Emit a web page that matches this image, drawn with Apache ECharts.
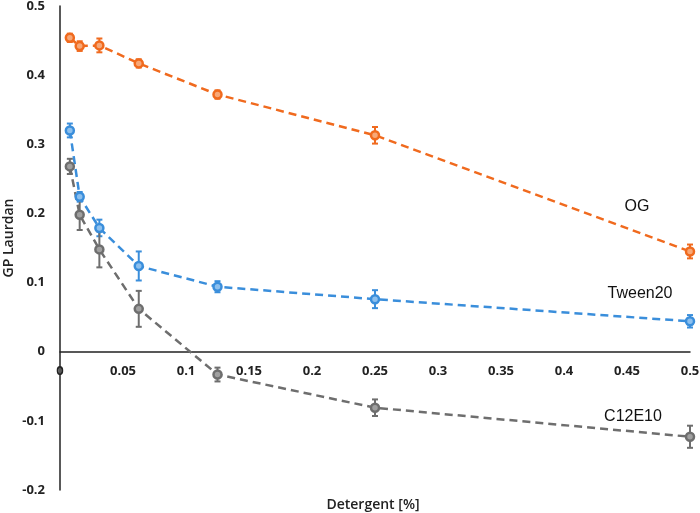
<!DOCTYPE html>
<html>
<head>
<meta charset="utf-8">
<script src="https://cdn.jsdelivr.net/npm/echarts@6/dist/echarts.min.js"></script>
<style>html,body{margin:0;padding:0;background:#fff}#c{width:700px;height:513px}</style>
</head>
<body>
<div id="c"></div>
<script>
const concentrations = [0.0078125, 0.015625, 0.03125, 0.0625, 0.125, 0.25, 0.5];
const ogValues = [0.454, 0.442, 0.443, 0.417, 0.372, 0.313, 0.145];
const ogErrors = [0.006, 0.007, 0.010, 0.006, 0.006, 0.012, 0.010];
const tweenValues = [0.320, 0.224, 0.179, 0.124, 0.094, 0.076, 0.044];
const tweenErrors = [0.010, 0.007, 0.012, 0.021, 0.008, 0.013, 0.009];
const c12Values = [0.268, 0.198, 0.148, 0.062, -0.033, -0.081, -0.123];
const c12Errors = [0.011, 0.022, 0.026, 0.026, 0.010, 0.012, 0.016];
const seriesNames = ['OG', 'Tween20', 'C12E10'];
const colors = ['#F06A1E', '#3A8EDB', '#6E6E6E'];
const fills = ['#F7A878', '#8DC0EE', '#A0A0A0'];

const allValues = [ogValues, tweenValues, c12Values];
const allErrors = [ogErrors, tweenErrors, c12Errors];

const yMin = -0.2, yMax = 0.5;
const gridTop = 6, gridBottom = 23, chartH = 513;

const chart = echarts.init(document.getElementById('c'), null, {renderer: 'canvas'});
const series = [];
allValues.forEach((vals, i) => {
  const data = concentrations.map((x, k) => [x, vals[k]]);
  const errData = concentrations.map((x, k) => [x, vals[k] - allErrors[i][k], vals[k] + allErrors[i][k]]);
  series.push({
    type: 'custom',
    name: seriesNames[i] + ' err',
    data: errData,
    z: 3,
    renderItem: function (params, api) {
      const x = api.value(0);
      const lo = api.coord([x, api.value(1)]);
      const hi = api.coord([x, api.value(2)]);
      const w = 3;
      const st = {stroke: colors[i], lineWidth: 2};
      return {
        type: 'group',
        children: [
          {type: 'line', shape: {x1: lo[0], y1: lo[1], x2: hi[0], y2: hi[1]}, style: st},
          {type: 'line', shape: {x1: lo[0] - w, y1: lo[1], x2: lo[0] + w, y2: lo[1]}, style: st},
          {type: 'line', shape: {x1: hi[0] - w, y1: hi[1], x2: hi[0] + w, y2: hi[1]}, style: st}
        ]
      };
    },
    encode: {x: 0, y: [1, 2]}
  });
  series.push({
    type: 'line',
    name: seriesNames[i],
    data: data,
    z: 4,
    symbol: 'circle',
    symbolSize: 8,
    lineStyle: {color: colors[i], width: 2.5, type: [8, 5]},
    itemStyle: {color: fills[i], borderColor: colors[i], borderWidth: 2.5},
    animation: false
  });
});

// shift x axis (line + labels) up to the y = 0 position
const plotH = chartH - gridTop - gridBottom;
const zeroOffset = -plotH * (0 - yMin) / (yMax - yMin);

chart.setOption({
  animation: false,
  grid: {left: 60, right: 10, top: gridTop, bottom: gridBottom, containLabel: false, outerBoundsMode: 'none'},
  xAxis: {
    type: 'value', min: 0, max: 0.5, interval: 0.05,
    offset: zeroOffset,
    axisLine: {onZero: false, lineStyle: {color: '#222', width: 1.5}},
    axisTick: {show: false},
    splitLine: {show: false},
    axisLabel: {fontFamily: 'Open Sans', fontWeight: 'bold', fontSize: 13, color: '#222', margin: 13}
  },
  yAxis: {
    type: 'value', min: yMin, max: yMax, interval: 0.1,
    axisLine: {show: true, lineStyle: {color: '#222', width: 1.5}},
    axisTick: {show: false},
    splitLine: {show: false},
    axisLabel: {fontFamily: 'Open Sans', fontWeight: 'bold', fontSize: 13, color: '#222', margin: 15}
  },
  graphic: [
    {type: 'text', x: 9, y: 238, rotation: Math.PI / 2, style: {text: 'GP Laurdan', font: '600 14px "Open Sans"', fill: '#222', align: 'center', verticalAlign: 'middle'}},
    {type: 'text', x: 373, y: 505, style: {text: 'Detergent [%]', font: '600 14px "Open Sans"', fill: '#222', align: 'center', verticalAlign: 'middle'}},
    {type: 'text', x: 637, y: 207, style: {text: 'OG', font: '16px "Liberation Sans"', fill: '#111', align: 'center', verticalAlign: 'middle'}},
    {type: 'text', x: 640, y: 294, style: {text: 'Tween20', font: '16px "Liberation Sans"', fill: '#111', align: 'center', verticalAlign: 'middle'}},
    {type: 'text', x: 633, y: 417, style: {text: 'C12E10', font: '16px "Liberation Sans"', fill: '#111', align: 'center', verticalAlign: 'middle'}}
  ],
  series: series
});
</script>
</body>
</html>
